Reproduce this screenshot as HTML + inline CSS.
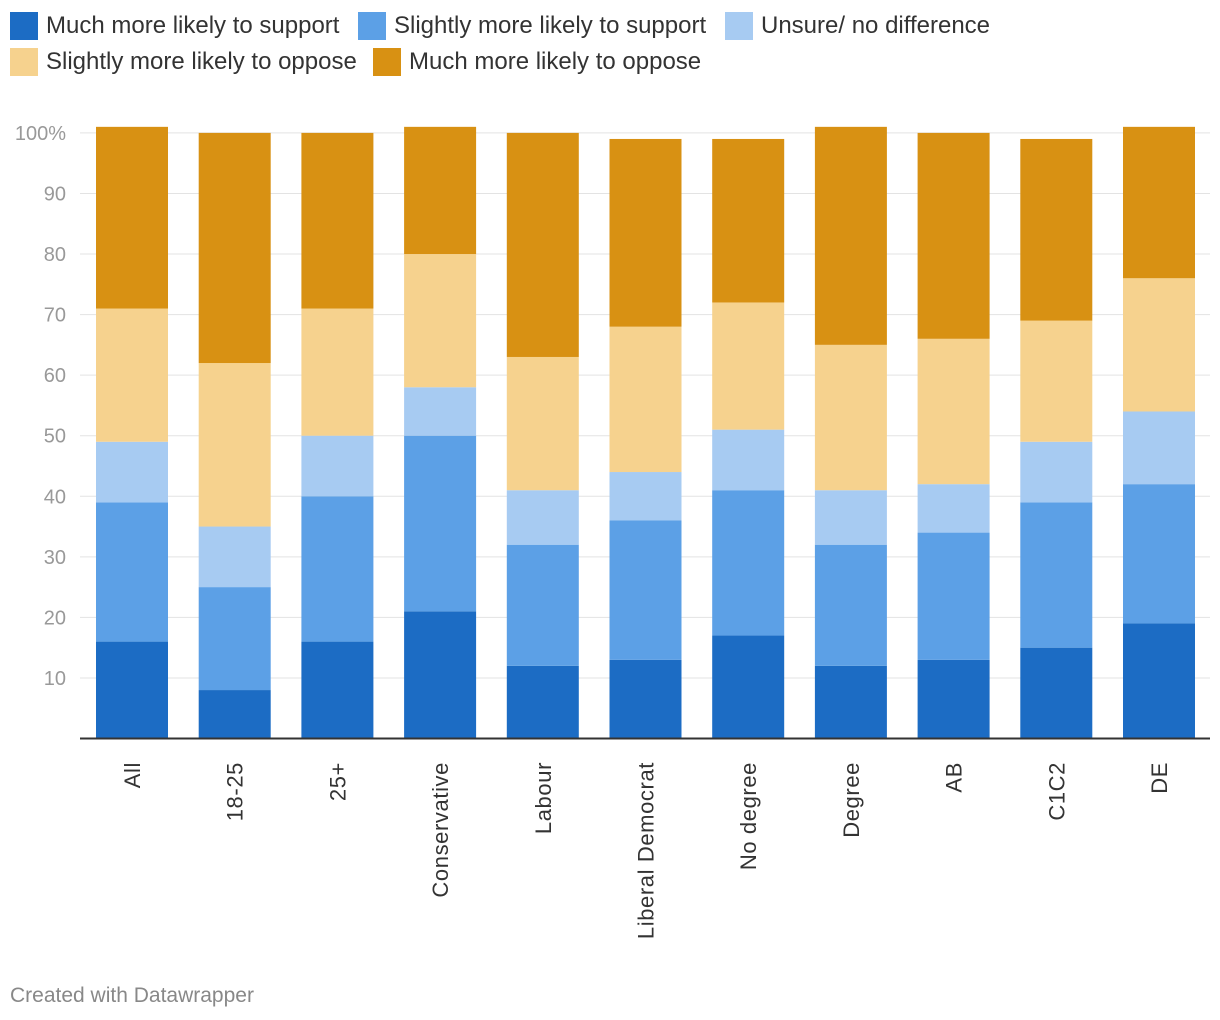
<!DOCTYPE html>
<html><head><meta charset="utf-8"><style>
body{margin:0;background:#fff;font-family:"Liberation Sans",Roboto,sans-serif;}
#wrap{position:relative;width:1220px;height:1020px;overflow:hidden}
.leg{position:absolute;display:flex;align-items:center;font-size:24px;color:#333;white-space:nowrap}
.leg span.sw{display:inline-block;width:28px;height:28px;margin-right:8px}
#credit{position:absolute;left:10px;top:984px;font-size:21px;color:#888}
</style></head><body><div id="wrap">
<div class="leg" style="left:10px;top:12px"><span class="sw" style="background:#1c6cc4"></span>Much more likely to support</div>
<div class="leg" style="left:358px;top:12px"><span class="sw" style="background:#5ca0e6"></span>Slightly more likely to support</div>
<div class="leg" style="left:725px;top:12px"><span class="sw" style="background:#a7cbf2"></span>Unsure/ no difference</div>
<div class="leg" style="left:10px;top:48px"><span class="sw" style="background:#f6d28e"></span>Slightly more likely to oppose</div>
<div class="leg" style="left:373px;top:48px"><span class="sw" style="background:#d89113"></span>Much more likely to oppose</div>
<svg id="chart" width="1220" height="1020" style="position:absolute;left:0;top:0"></svg>
<div id="credit">Created with Datawrapper</div>
</div>
<script>
const categories=["All","18-25","25+","Conservative","Labour","Liberal Democrat","No degree","Degree","AB","C1C2","DE"];
const muchSupport=[16,8,16,21,12,13,17,12,13,15,19];
const slightSupport=[23,17,24,29,20,23,24,20,21,24,23];
const unsure=[10,10,10,8,9,8,10,9,8,10,12];
const slightOppose=[22,27,21,22,22,24,21,24,24,20,22];
const muchOppose=[30,38,29,21,37,31,27,36,34,30,25];
const tickValues=[10,20,30,40,50,60,70,80,90,100];
const tickLabels=["10","20","30","40","50","60","70","80","90","100%"];
const seriesList=[muchSupport,slightSupport,unsure,slightOppose,muchOppose];
const seriesNames=["much-support","slight-support","unsure","slight-oppose","much-oppose"];
const colors=["#1c6cc4","#5ca0e6","#a7cbf2","#f6d28e","#d89113"];
const svg=document.getElementById('chart');const NS="http://www.w3.org/2000/svg";
const y0=738.5,pxPer=60.56/10;
const y=v=>y0-v*pxPer;
const step=102.7,bw=72,x0=96;
const x=i=>x0+i*step;
function mk(t,a){const e=document.createElementNS(NS,t);for(const k in a)e.setAttribute(k,a[k]);svg.appendChild(e);return e;}
tickValues.forEach((v,i)=>{
 const g=mk('line',{x1:80,x2:1210,y1:y(v),y2:y(v),stroke:'#e3e3e3','stroke-width':1});
 
 
 const t=mk('text',{x:66,y:y(v)+7,'text-anchor':'end','font-size':20,fill:'#999','font-family':'Liberation Sans, sans-serif'});
 t.textContent=tickLabels[i];
 
 
});
categories.forEach((c,i)=>{
 let cum=0;
 seriesList.forEach((s,k)=>{
  const r=mk('rect',{x:x(i),width:bw,y:y(cum+s[i]),height:s[i]*pxPer,fill:colors[k]});
  
  
  cum+=s[i];
 });
 const cx=x(i)+bw/2+8;
 const t=mk('text',{x:0,y:0,transform:`translate(${cx},762) rotate(-90)`,'text-anchor':'end','font-size':22,'letter-spacing':'0.6',fill:'#333','font-family':'Liberation Sans, sans-serif'});
 t.textContent=c;
 
 
});
const ax=mk('line',{x1:80,x2:1210,y1:y0,y2:y0,stroke:'#333','stroke-width':2});


</script></body></html>
